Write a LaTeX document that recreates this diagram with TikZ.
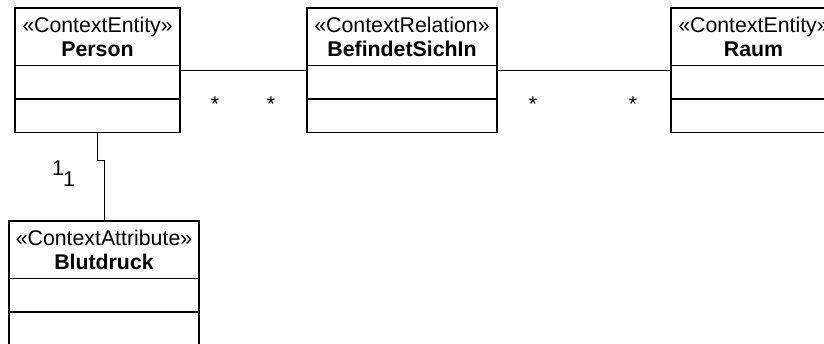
\documentclass[tikz,border=0pt]{standalone}
\usepackage{fontspec}
\setmainfont{Liberation Sans}
\usetikzlibrary{positioning}

\tikzset{
  classhead/.style={draw, line width=1.5pt, minimum height=57.5pt, inner sep=0pt, outer sep=0pt,
    align=center, font=\fontsize{21.3}{24}\selectfont},
  classpart/.style={draw, line width=1.5pt, minimum height=33.5pt, inner sep=0pt, outer sep=0pt},
  assoc/.style={line width=1pt},
  mult/.style={inner sep=0pt, font=\fontsize{21.3}{24}\selectfont}
}

\begin{document}
\begin{tikzpicture}[x=1pt, y=-1pt]
          \useasboundingbox (0,0) rectangle (824,343);

          % Classes
          \foreach \name/\pos/\bw/\kind/\title in {Person/{(15,8)}/165/ContextEntity/Person, Rel/{(307,8)}/190/ContextRelation/BefindetSichIn, Raum/{(671,8)}/165/ContextEntity/Raum, Blut/{(9,221)}/190/ContextAttribute/Blutdruck} {
            \node[classhead, minimum width=\bw pt, anchor=north west] (\name Head) at \pos {«\kind»\\\textbf{\title}};
            \node[classpart, minimum width=\bw pt, below=0pt of \name Head] (\name Attr) {};
            \node[classpart, minimum width=\bw pt, below=0pt of \name Attr] (\name Ops) {};
          }

          % Associations
          \draw[assoc] ([yshift=-5pt]PersonAttr.north east) -- ([yshift=-5pt]RelAttr.north west);
          \draw[assoc] ([yshift=-5pt]RelAttr.north east) -- ([yshift=-5pt]RaumAttr.north west);
          \draw[assoc] (PersonOps.south) -- ++(0,28) -| (BlutHead.north);

          % Multiplicities
          \foreach \pos/\name in {{(215,111)}/m1, {(271,111)}/m2, {(533,111)}/m3, {(633,111)}/m4} {
            \node[mult, anchor=base] (\name) at \pos {*};
          }
          \node[mult] (one1) at (58,168) {1};
          \node[mult] (one2) at (69,179) {1};
        \end{tikzpicture}
\end{document}
